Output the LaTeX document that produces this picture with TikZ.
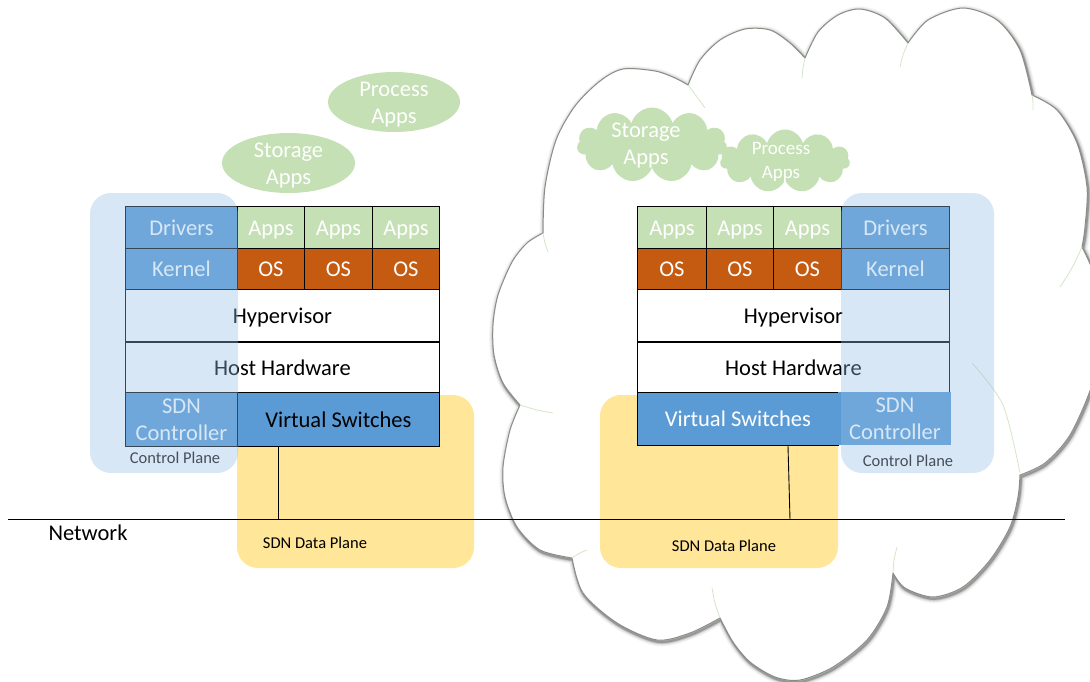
\documentclass[tikz,border=0pt]{standalone}
\usepackage{fontspec}
\setmainfont{Carlito}
\usetikzlibrary{shapes.symbols,shapes.geometric}

\definecolor{appgreen}{RGB}{197,224,180}
\definecolor{osorange}{RGB}{197,90,17}
\definecolor{swblue}{RGB}{91,155,213}
\definecolor{dpyellow}{RGB}{255,230,153}
\definecolor{cptint}{RGB}{148,190,230}
\definecolor{cplabel}{RGB}{70,78,90}
\definecolor{cloudline}{RGB}{135,142,132}
\definecolor{innerarc}{RGB}{212,230,200}

\newcommand\bigfont{\fontsize{22.5}{27}\selectfont}
\newcommand\midfont{\fontsize{19}{24}\selectfont}
\newcommand\smallfont{\fontsize{16.5}{20}\selectfont}

% outline of the large cloud, one smooth puff after another
\def\cloudoutline{
 plot[smooth] coordinates {(543,233) (545,187) (556,140) (575,106) (600,81) (623,69) (655,71) (675,78) (688,85)}
 -- plot[smooth] coordinates {(688,85) (700,60) (720,40) (745,29) (770,30) (790,43) (805,58)}
 -- plot[smooth] coordinates {(805,58) (818,32) (838,15) (860,9) (885,18) (908,43)}
 -- plot[smooth] coordinates {(908,43) (928,20) (963,8) (997,20) (1020,50) (1032,95)}
 -- plot[smooth] coordinates {(1032,95) (1057,110) (1077,143) (1087,187) (1085,227) (1082,247)}
 -- plot[smooth] coordinates {(1082,247) (1098,285) (1102,335) (1092,385) (1070,435) (1045,463) (1020,475)}
 -- plot[smooth] coordinates {(1020,475) (1018,497) (1010,527) (990,560) (963,587) (933,597) (905,588) (893,573)}
 -- plot[smooth] coordinates {(893,573) (887,607) (867,640) (833,667) (800,680) (775,677) (750,662) (733,642) (720,618)}
 -- plot[smooth] coordinates {(720,618) (690,633) (657,640) (617,623) (583,593) (572,558)}
 -- plot[smooth] coordinates {(572,558) (540,550) (517,527) (505,497) (503,467) (510,430) (520,405)}
 -- plot[smooth] coordinates {(520,405) (503,383) (494,355) (493,325) (498,295) (512,262) (527,243) (543,233)}
 -- cycle}

\begin{document}
\begin{tikzpicture}[x=1pt,y=-1pt,
  stackbox/.style={draw=black, line width=0.9pt, inner sep=0pt, anchor=north west,
                   font=\bigfont, align=center},
  oneline/.style={text height=19.5pt, text depth=4pt},
  appbox/.style={stackbox, oneline, fill=appgreen, text=white},
  osbox/.style={stackbox, oneline, fill=osorange, text=white},
  hostbox/.style={stackbox, oneline, fill=white, text=black},
  ctlbox/.style={stackbox, fill=swblue, text=white},
  vsbox/.style={stackbox, oneline, fill=swblue},
  plane/.style={rounded corners=21pt},
  ctlplane/.style={plane, fill=cptint, fill opacity=0.37},
  dataplane/.style={plane, fill=dpyellow},
  planelabel/.style={font=\smallfont, inner sep=0pt},
  appblob/.style={ellipse, fill=appgreen, inner sep=0pt},
  appcloud/.style={cloud, cloud puffs=11, cloud ignores aspect, fill=appgreen, inner sep=0pt},
  blobtext/.style={text=white, align=center, inner sep=0pt},
  wire/.style={draw=black, line width=0.9pt},
  puffarc/.style={draw=innerarc, line width=0.8pt}
]
\useasboundingbox (0,0) rectangle (1090,681);
\clip (0,0) rectangle (1090,681);

% ---------- large cloud ----------
\foreach \w/\o in {9/0.04,7/0.05,5/0.08,3.5/0.12,2.2/0.2}
  \draw[black, opacity=\o, line width=\w pt, line join=round, shift={(1,1.8)}] \cloudoutline;
\fill[white] \cloudoutline;
\draw[cloudline, line width=1pt, line join=round] \cloudoutline;
% faint arcs where the puffs meet
\draw[puffarc] plot[smooth] coordinates {(543,233) (545,243) (548,252)};
\draw[puffarc] plot[smooth] coordinates {(688,85) (697,97) (705,108)};
\draw[puffarc] plot[smooth] coordinates {(805,58) (803,68) (802,78)};
\draw[puffarc] plot[smooth] coordinates {(908,43) (903,55) (900,67)};
\draw[puffarc] plot[smooth] coordinates {(1032,95) (1033,103) (1033,110)};
\draw[puffarc] plot[smooth] coordinates {(1082,247) (1072,268) (1060,287)};
\draw[puffarc] plot[smooth] coordinates {(972,363) (1003,405) (1020,473)};
\draw[puffarc] plot[smooth] coordinates {(893,573) (894,560) (897,547)};
\draw[puffarc] plot[smooth] coordinates {(720,618) (715,603) (712,588)};
\draw[puffarc] plot[smooth] coordinates {(572,558) (580,553) (587,550)};
\draw[puffarc] plot[smooth] coordinates {(520,405) (537,410) (553,413)};

% ---------- application blobs ----------
\node[appblob, minimum width=132pt, minimum height=60pt] (procL) at (394,102) {};
\node[blobtext, font=\bigfont] at ([yshift=-2.5pt]procL.center) {Process\\Apps};
\node[appblob, minimum width=133pt, minimum height=60pt] (storL) at (288.5,163) {};
\node[blobtext, font=\bigfont] at ([yshift=-2.5pt]storL.center) {Storage\\Apps};

\node[appcloud, minimum width=150pt, minimum height=75pt] (storR) at (652,145) {};
\node[blobtext, font=\bigfont] at ([xshift=-6pt,yshift=-1pt]storR.center) {Storage\\Apps};
\node[appcloud, minimum width=130pt, minimum height=63pt] (procR) at (785,161) {};
\node[blobtext, font=\midfont] at ([xshift=-4pt,yshift=-1pt]procR.center) {Process\\Apps};

% ---------- data planes ----------
\path[dataplane] (237,395) rectangle (474,568);
\path[dataplane] (600,395) rectangle (838,568);

% ---------- network ----------
\coordinate (netL) at (8,519.5);
\coordinate (netR) at (1065,519.5);
\coordinate (tapL) at (278,519.5);
\coordinate (tapR) at (790,519.5);
\draw[wire] (netL) -- (netR);
\node[font=\bigfont, inner sep=0pt] (netlabel) at (88,533) {Network};

% ---------- left host stack ----------
\node[ctlbox, oneline, minimum width=112pt, minimum height=42pt] (drvL) at (125,206) {Drivers};
\node[ctlbox, oneline, minimum width=112pt, minimum height=41pt] (krnL) at (125,248) {Kernel};
\node[appbox, minimum width=67pt, minimum height=42pt] (appL1) at (237,206) {Apps};
\node[appbox, minimum width=68pt, minimum height=42pt] (appL2) at (304,206) {Apps};
\node[appbox, minimum width=67pt, minimum height=42pt] (appL3) at (372,206) {Apps};
\node[osbox, minimum width=67pt, minimum height=41pt] (osL1) at (237,248) {OS};
\node[osbox, minimum width=68pt, minimum height=41pt] (osL2) at (304,248) {OS};
\node[osbox, minimum width=67pt, minimum height=41pt] (osL3) at (372,248) {OS};
\node[hostbox, minimum width=314pt, minimum height=52pt] (hypL) at (125,289) {Hypervisor};
\node[hostbox, minimum width=314pt, minimum height=50pt] (hwL) at (125,342) {Host Hardware};
\node[ctlbox, minimum width=112pt, minimum height=54pt] (sdnL) at (125,392) {SDN\\Controller};
\node[vsbox, text=black, minimum width=202pt, minimum height=54pt] (vsL) at (237,392) {Virtual Switches};
\draw[wire] (vsL.south -| tapL) -- (tapL);

% ---------- right host stack ----------
\node[appbox, minimum width=69pt, minimum height=42pt] (appR1) at (637,206) {Apps};
\node[appbox, minimum width=67pt, minimum height=42pt] (appR2) at (706,206) {Apps};
\node[appbox, minimum width=68pt, minimum height=42pt] (appR3) at (773,206) {Apps};
\node[osbox, minimum width=69pt, minimum height=41pt] (osR1) at (637,248) {OS};
\node[osbox, minimum width=67pt, minimum height=41pt] (osR2) at (706,248) {OS};
\node[osbox, minimum width=68pt, minimum height=41pt] (osR3) at (773,248) {OS};
\node[ctlbox, oneline, minimum width=108pt, minimum height=42pt] (drvR) at (841,206) {Drivers};
\node[ctlbox, oneline, minimum width=108pt, minimum height=41pt] (krnR) at (841,248) {Kernel};
\node[hostbox, minimum width=312pt, minimum height=52pt] (hypR) at (637,289) {Hypervisor};
\node[hostbox, minimum width=312pt, minimum height=50pt] (hwR) at (637,342) {Host Hardware};
\node[vsbox, text=white, minimum width=201pt, minimum height=53pt] (vsR) at (637,392) {Virtual Switches};
\node[ctlbox, draw=none, minimum width=113pt, minimum height=53pt] (sdnR) at (838,392) {SDN\\Controller};
\draw[wire] ([xshift=-2pt]vsR.south -| tapR) -- (tapR);

% ---------- control planes ----------
\path[ctlplane] (90,193) rectangle (238,473);
\path[ctlplane] (841,193) rectangle (994,473);

% ---------- plane labels ----------
\node[planelabel, text=cplabel] (cpL) at (175,458) {Control Plane};
\node[planelabel, text=cplabel] (cpR) at (908,461) {Control Plane};
\node[planelabel, text=black] (dpL) at (315,543) {SDN Data Plane};
\node[planelabel, text=black] (dpR) at (724,546) {SDN Data Plane};
\end{tikzpicture}
\end{document}
